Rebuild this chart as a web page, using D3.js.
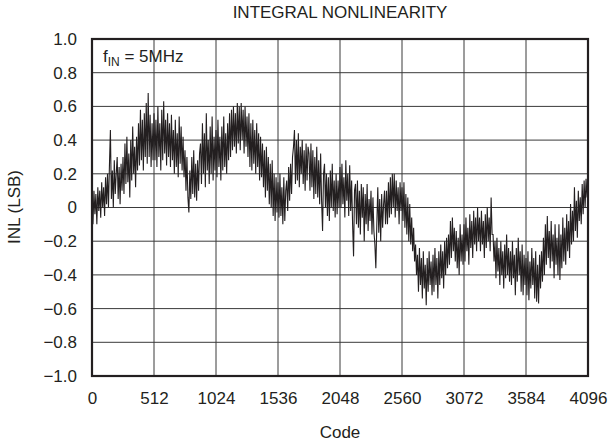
<!DOCTYPE html>
<html>
<head>
<meta charset="utf-8">
<script src="https://cdn.jsdelivr.net/npm/d3@7"></script>
<style>
  body { margin: 0; background: #fff; }
  text { font-family: "Liberation Sans", Arial, sans-serif; fill: #231f20; }
</style>
</head>
<body>
<div id="chart-area"></div>
<script>
var codeStep = 8;
var inl = [
	0.05, -0.1, 0.1, -0.04, 0.08, -0.1, 0.12, -0.02, 0.1, -0.06, 0.15, 0.0, 0.12, -0.05, 0.18, 0.02,
	0.2, 0.0, 0.25, 0.46, 0.05, 0.22, 0.0, 0.28, 0.08, 0.2, 0.3, 0.05, 0.24, 0.02, 0.26, 0.1,
	0.3, 0.08, 0.38, 0.14, 0.42, 0.15, 0.32, 0.06, 0.4, 0.16, 0.48, 0.2, 0.36, 0.12, 0.42, 0.22,
	0.5, 0.25, 0.58, 0.28, 0.52, 0.22, 0.56, 0.3, 0.62, 0.26, 0.68, 0.3, 0.55, 0.24, 0.5, 0.28,
	0.56, 0.28, 0.52, 0.24, 0.6, 0.3, 0.5, 0.22, 0.58, 0.28, 0.63, 0.32, 0.52, 0.25, 0.56, 0.3,
	0.5, 0.24, 0.55, 0.28, 0.46, 0.2, 0.52, 0.24, 0.44, 0.18, 0.54, 0.26, 0.48, 0.22, 0.42, 0.18,
	0.34, 0.1, 0.3, 0.06, -0.03, 0.22, 0.05, 0.3, 0.08, 0.34, 0.06, 0.26, 0.04, 0.28, 0.1, 0.32,
	0.38, 0.14, 0.5, 0.2, 0.44, 0.12, 0.56, 0.22, 0.4, 0.14, 0.48, 0.2, 0.54, 0.16, 0.42, 0.22,
	0.46, 0.18, 0.52, 0.24, 0.42, 0.16, 0.48, 0.22, 0.54, 0.24, 0.44, 0.2, 0.5, 0.28, 0.56, 0.3,
	0.58, 0.34, 0.6, 0.36, 0.56, 0.32, 0.62, 0.38, 0.6, 0.34, 0.62, 0.4, 0.58, 0.32, 0.6, 0.36,
	0.54, 0.3, 0.56, 0.24, 0.5, 0.22, 0.52, 0.26, 0.46, 0.2, 0.5, 0.24, 0.44, 0.16, 0.42, 0.18,
	0.38, 0.12, 0.34, 0.06, 0.36, 0.1, 0.3, 0.02, 0.26, 0.0, 0.28, -0.05, 0.2, -0.08, 0.18, -0.03,
	0.15, -0.06, 0.2, -0.05, 0.12, -0.1, 0.18, -0.08, 0.1, 0.16, -0.02, 0.24, 0.04, 0.26, 0.08, 0.3,
	0.36, 0.46, 0.14, 0.4, 0.16, 0.44, 0.12, 0.36, 0.2, 0.4, 0.14, 0.34, 0.1, 0.38, 0.16, 0.36,
	0.32, 0.1, 0.38, 0.12, 0.34, 0.05, 0.3, 0.08, 0.36, 0.06, 0.28, 0.02, 0.32, 0.04, -0.14, 0.2,
	0.26, 0.0, 0.2, -0.05, 0.18, -0.08, 0.22, 0.0, 0.26, -0.02, 0.16, -0.06, 0.2, -0.04, 0.16, 0.0,
	0.24, 0.0, 0.26, 0.02, 0.18, -0.06, 0.28, 0.04, 0.2, -0.05, 0.25, -0.02, 0.16, -0.1, -0.29, 0.1,
	0.14, -0.1, 0.16, -0.12, 0.1, -0.16, 0.14, -0.06, 0.12, -0.2, 0.08, -0.1, 0.14, -0.14, 0.05, -0.08,
	0.1, -0.16, 0.06, -0.14, -0.22, -0.36, -0.1, 0.12, -0.15, 0.05, -0.2, 0.08, -0.12, 0.02, 0.1, -0.1,
	0.1, -0.1, 0.15, -0.06, 0.18, -0.04, 0.2, 0.0, 0.2, -0.06, 0.16, -0.02, 0.12, -0.1, 0.15, -0.02,
	0.12, -0.08, 0.15, -0.12, 0.08, -0.16, 0.06, -0.2, 0.02, -0.22, -0.06, -0.26, -0.12, -0.32, -0.22, -0.4,
	-0.28, -0.5, -0.24, -0.46, -0.3, -0.54, -0.26, -0.48, -0.34, -0.58, -0.3, -0.5, -0.26, -0.46, -0.32, -0.52,
	-0.28, -0.5, -0.24, -0.46, -0.3, -0.54, -0.26, -0.46, -0.22, -0.42, -0.26, -0.48, -0.2, -0.4, -0.18, -0.36,
	-0.16, -0.34, -0.08, -0.3, -0.06, -0.26, -0.12, -0.32, -0.14, -0.36, -0.18, -0.4, -0.1, -0.32, -0.16, -0.34,
	-0.1, -0.32, -0.06, -0.26, -0.12, -0.34, -0.04, -0.24, -0.08, -0.3, -0.02, -0.22, -0.06, -0.26, 0.0, -0.2,
	-0.06, -0.26, -0.02, -0.22, -0.08, -0.3, -0.04, -0.24, 0.0, -0.2, -0.06, -0.26, 0.06, -0.16, -0.16, -0.32,
	-0.2, -0.42, -0.18, -0.38, -0.24, -0.46, -0.2, -0.4, -0.26, -0.48, -0.22, -0.42, -0.16, -0.4, -0.24, -0.44,
	-0.26, -0.46, -0.2, -0.42, -0.28, -0.52, -0.24, -0.44, -0.18, -0.4, -0.26, -0.5, -0.22, -0.52, -0.28, -0.46,
	-0.3, -0.52, -0.26, -0.55, -0.32, -0.48, -0.24, -0.46, -0.3, -0.54, -0.26, -0.56, -0.34, -0.57, -0.28, -0.48,
	-0.26, -0.44, -0.18, -0.4, -0.1, -0.34, -0.05, -0.3, -0.14, -0.36, -0.08, -0.32, -0.16, -0.42, -0.1, -0.34,
	-0.18, -0.4, -0.1, -0.43, -0.16, -0.36, -0.06, -0.32, -0.12, -0.34, -0.04, -0.26, -0.08, -0.3, 0.02, -0.22,
	-0.02, -0.2, 0.12, -0.14, 0.04, -0.18, 0.1, -0.08, 0.06, -0.1, 0.14, -0.04, 0.16, 0.0, 0.17, 0.06,
	0.15
];
var xTicks = [0, 512, 1024, 1536, 2048, 2560, 3072, 3584, 4096];
var yTicks = [1.0, 0.8, 0.6, 0.4, 0.2, 0, -0.2, -0.4, -0.6, -0.8, -1.0];

var margin = {left: 92, right: 22, top: 39, bottom: 66};
var width = 610 - margin.left - margin.right;
var height = 442 - margin.top - margin.bottom;

var svg = d3.select("#chart-area")
	.append("svg")
	.attr("width", 610)
	.attr("height", 442);

var g = svg.append("g")
	.attr("transform", "translate(" + margin.left + ", " + margin.top + ")");

var x = d3.scaleLinear()
	.domain([0, 4096])
	.range([0, width]);

var y = d3.scaleLinear()
	.domain([-1, 1])
	.range([height, 0]);

// grid
g.append("g")
	.selectAll("line")
	.data(xTicks)
	.enter().append("line")
	.attr("x1", (d) => x(d)).attr("x2", (d) => x(d))
	.attr("y1", 0).attr("y2", height)
	.attr("stroke", "#3a3a3a")
	.attr("stroke-width", 1);

g.append("g")
	.selectAll("line")
	.data(yTicks)
	.enter().append("line")
	.attr("x1", 0).attr("x2", width)
	.attr("y1", (d) => y(d)).attr("y2", (d) => y(d))
	.attr("stroke", "#3a3a3a")
	.attr("stroke-width", 1);

// axes (labels only)
var fmt = (d) => d == 0 ? "0" : d3.format(".1f")(d).replace("-", "\u2212");

var xAxisGroup = g.append("g")
	.attr("transform", "translate(0, " + height + ")")
	.call(d3.axisBottom(x).tickValues(xTicks).tickSize(0).tickPadding(16).tickFormat(d3.format("d")));

var yAxisGroup = g.append("g")
	.call(d3.axisLeft(y).tickValues(yTicks).tickSize(0).tickPadding(15).tickFormat(fmt));

[xAxisGroup, yAxisGroup].forEach((a) => {
	a.select(".domain").remove();
	a.selectAll("text")
		.attr("font-size", "17px")
		.attr("fill", "#231f20")
		.style("font-family", "'Liberation Sans', Arial, sans-serif");
});

// trace
var line = d3.line()
	.x((d, i) => x(i * codeStep))
	.y((d) => y(d));

g.append("path")
	.datum(inl)
	.attr("fill", "none")
	.attr("stroke", "#231f20")
	.attr("stroke-width", 1.1)
	.attr("d", line);

// frame
g.append("rect")
	.attr("x", 0)
	.attr("y", 0)
	.attr("width", width)
	.attr("height", height)
	.attr("fill", "none")
	.attr("stroke", "#231f20")
	.attr("stroke-width", 2.2);

// annotation
var note = g.append("text")
	.attr("x", 11)
	.attr("y", 23)
	.attr("font-size", "17px");
note.append("tspan").text("f");
note.append("tspan").attr("font-size", "12px").attr("dy", 4).text("IN");
note.append("tspan").attr("dy", -4).text(" = 5MHz");

// titles
svg.append("text")
	.attr("x", 340)
	.attr("y", 18)
	.attr("font-size", "17px")
	.attr("text-anchor", "middle")
	.text("INTEGRAL NONLINEARITY");

svg.append("text")
	.attr("x", 340)
	.attr("y", 438)
	.attr("font-size", "17px")
	.attr("text-anchor", "middle")
	.text("Code");

svg.append("text")
	.attr("transform", "translate(20, 207) rotate(-90)")
	.attr("font-size", "17px")
	.attr("text-anchor", "middle")
	.text("INL (LSB)");
</script>
</body>
</html>
